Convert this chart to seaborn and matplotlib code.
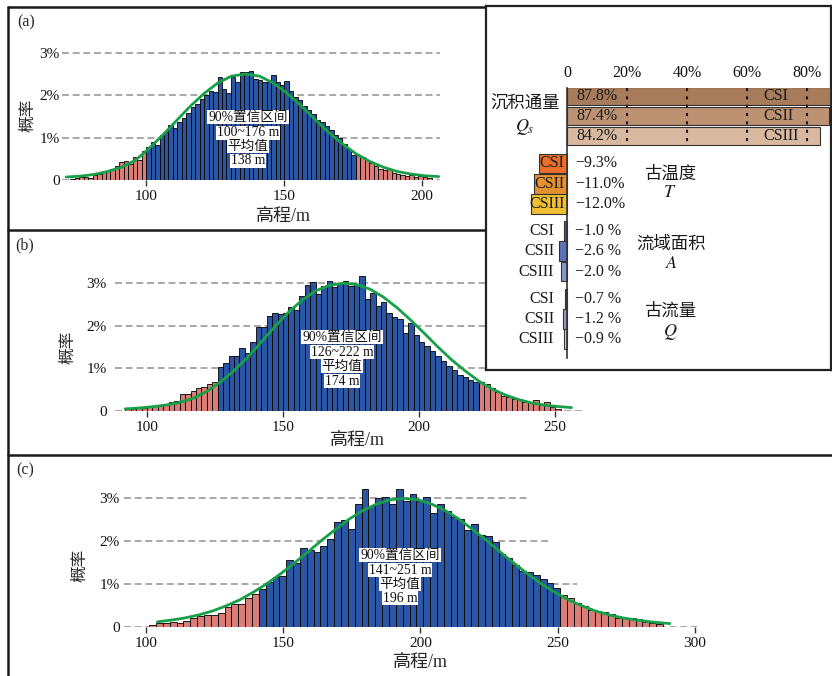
import numpy as np
import pandas as pd
import seaborn as sns
import matplotlib.pyplot as plt
from matplotlib.lines import Line2D

sns.set_theme(style="white")
plt.rcParams["font.family"] = ["Liberation Serif", "Noto Sans CJK SC", "DejaVu Sans"]
plt.rcParams["mathtext.fontset"] = "stix"

W, H = 832, 676
BLUE, RED, GREEN = "#2a56a4", "#d97d76", "#17a048"

# ---------------- histogram data (probability in % per bin) ----------------
a_bin_start, a_bin_width = 72.5, 76 / 47
a_ci = (100, 176)
a_mean = 138
a_pct = [0.02, 0.04, 0.06, 0.08, 0.05, 0.12, 0.15, 0.18, 0.22, 0.27, 0.32, 0.43, 0.45, 0.37, 0.55, 0.48, 0.69,
         0.78, 0.9, 0.83, 1.05, 1.13, 1.3, 1.22, 1.37, 1.47, 1.58, 1.72, 1.8, 1.9, 2.0, 2.1, 2.07, 2.44, 2.15,
         2.05, 2.42, 2.3, 2.55, 2.55, 2.57, 2.38, 2.36, 2.3, 2.32, 2.48, 2.3, 2.25, 2.33, 2.1, 1.95, 1.88, 1.75,
         1.66, 1.55, 1.42, 1.37, 1.27, 1.17, 1.05, 1.0, 0.86, 0.72, 0.6,
         0.59, 0.55, 0.48, 0.39, 0.33, 0.27, 0.23, 0.25, 0.17, 0.14, 0.12, 0.09, 0.12, 0.08, 0.09, 0.06, 0.04]
a_curve_x = [71, 76, 81, 86, 91, 96, 101, 106, 111, 116, 121, 126, 131, 136, 141, 146, 151, 156, 161, 166,
             171, 176, 181, 186, 191, 196, 201, 206]
a_curve_y = [0.07, 0.09, 0.13, 0.2, 0.3, 0.46, 0.74, 1.06, 1.4, 1.74, 2.04, 2.29, 2.45, 2.5, 2.45, 2.29, 2.05,
             1.76, 1.44, 1.13, 0.86, 0.62, 0.44, 0.3, 0.2, 0.14, 0.1, 0.08]

b_bin_start, b_bin_width = 92, 2.0
b_ci = (126, 222)
b_mean = 174
b_pct = [0.04, 0.05, 0.06, 0.08, 0.1, 0.12, 0.15, 0.17, 0.2, 0.24, 0.4, 0.4, 0.46, 0.54, 0.57, 0.63, 0.67,
         1.03, 1.13, 1.28, 1.3, 1.48, 1.35, 1.63, 1.98, 1.98, 2.24, 2.29, 2.27,
         2.31, 2.44, 2.37, 2.7, 2.95, 3.02, 2.75, 2.93, 3.05, 2.9, 2.97, 3.06, 2.93, 2.98, 3.17,
         2.64, 2.78, 2.46, 2.57, 2.3, 2.2, 2.15, 1.82, 2.07, 1.78, 1.62, 1.52, 1.4, 1.3, 1.17, 1.05, 0.97,
         0.85, 0.8, 0.73, 0.68,
         0.68, 0.63, 0.55, 0.45, 0.35, 0.33, 0.28, 0.27, 0.22, 0.2, 0.25, 0.15, 0.22, 0.1, 0.05]
b_curve_x = [92, 97, 102, 107, 112, 117, 122, 127, 132, 137, 142, 147, 152, 157, 162, 167, 172, 177, 182,
             187, 192, 197, 202, 207, 212, 217, 222, 227, 232, 237, 242, 247, 252, 256]
b_curve_y = [0.05, 0.07, 0.1, 0.14, 0.2, 0.3, 0.46, 0.68, 0.95, 1.26, 1.62, 1.98, 2.32, 2.6, 2.82, 2.95, 3.0,
             2.97, 2.86, 2.67, 2.42, 2.13, 1.82, 1.5, 1.2, 0.94, 0.7, 0.51, 0.37, 0.26, 0.18, 0.13, 0.1, 0.08]

c_bin_start, c_bin_width = 101, 2.5
c_ci = (141, 251)
c_mean = 196
c_pct = [0.05, 0.1, 0.1, 0.12, 0.09, 0.14, 0.2, 0.26, 0.27, 0.28, 0.33, 0.47, 0.53, 0.54, 0.68, 0.76,
         0.88, 1.05, 1.17, 1.19, 1.56, 1.5, 1.84, 1.8, 1.74, 1.88, 2.05, 2.45, 2.48, 2.29, 2.87, 3.22,
         2.81, 2.99, 3.02, 2.85, 3.22, 2.94, 3.1, 2.94, 3.03, 2.66, 2.85, 2.7, 2.56, 2.52, 2.25, 2.39,
         2.15, 2.11, 1.98, 1.7, 1.61, 1.45, 1.3, 1.28, 1.22, 1.12, 1.02, 0.9,
         0.75, 0.68, 0.55, 0.48, 0.4, 0.38, 0.35, 0.3, 0.22, 0.2, 0.22, 0.18, 0.12, 0.1, 0.08]
c_curve_x = [104, 109, 114, 119, 124, 129, 134, 139, 144, 149, 154, 159, 164, 169, 174, 179, 184, 189, 194,
             199, 204, 209, 214, 219, 224, 229, 234, 239, 244, 249, 254, 259, 264, 269, 274, 279, 284, 289, 291]
c_curve_y = [0.12, 0.16, 0.21, 0.28, 0.37, 0.49, 0.63, 0.81, 1.01, 1.24, 1.49, 1.75, 2.02, 2.27, 2.51, 2.71,
             2.86, 2.96, 2.99, 2.96, 2.86, 2.71, 2.51, 2.27, 2.02, 1.75, 1.49, 1.24, 1.01, 0.81, 0.63, 0.49,
             0.37, 0.28, 0.21, 0.16, 0.12, 0.09, 0.08]

# ---------------- panel (d) data ----------------
members = ["CSI", "CSII", "CSIII"]
qs_vals = [87.8, 87.4, 84.2]
t_vals = [-9.3, -11.0, -12.0]
area_vals = [-1.0, -2.6, -2.0]
q_vals = [-0.7, -1.2, -0.9]
group_names = ["沉积通量", "古温度", "流域面积", "古流量"]
group_syms = [r"$Q_s$", r"$T$", r"$A$", r"$Q$"]
d_ticks = [0, 20, 40, 60, 80]

fig = plt.figure(figsize=(W / 100, H / 100), dpi=100)


def rect(x0, y0, x1, y1):
    return [x0 / W, 1 - y1 / H, (x1 - x0) / W, (y1 - y0) / H]


def ftext(x, y, s, **kw):
    return fig.text(x / W, 1 - y / H, s, **kw)


def hist_panel(box, xlim, ylim, start, width, pct, ci, cx, cy, ticks, ypad, grid_ends=None):
    ax = fig.add_axes(rect(*box))
    ax.patch.set_alpha(0)
    n = len(pct)
    edges = (start + width * np.arange(n + 1)).tolist()
    mids = start + width * (np.arange(n) + 0.5)
    tail = (mids < ci[0]) | (mids > ci[1])
    df = pd.DataFrame({"elev": mids, "pct": pct, "tail": tail})
    for i, lvl in enumerate([0, 1, 2, 3]):
        xmax = xlim[1] if grid_ends is None else grid_ends[i]
        ax.hlines(lvl, xlim[0], xmax, colors="#8f8f8f", linestyles=(0, (4.5, 2.5)), lw=1.1, zorder=0)
    for is_tail, col in [(True, RED), (False, BLUE)]:
        sub = df[df["tail"] == is_tail]
        sns.histplot(data=sub, x="elev", weights="pct", bins=edges, color=col, alpha=1,
                     edgecolor="black", linewidth=0.6, ax=ax)
    sns.lineplot(x=cx, y=cy, color=GREEN, linewidth=2, ax=ax)
    ax.set_xlim(*xlim)
    ax.set_ylim(*ylim)
    ax.set_xticks(ticks)
    ax.set_xticklabels([str(t) for t in ticks], fontsize=11)
    ax.set_yticks([0, 1, 2, 3])
    ax.set_yticklabels(["0", "1%", "2%", "3%"], fontsize=11)
    ax.tick_params(axis="x", bottom=True, length=4, width=1, color="#333333", pad=3, labelcolor="#111111")
    ax.tick_params(axis="y", left=False, length=0, pad=ypad, labelcolor="#111111")
    sns.despine(ax=ax, left=True, bottom=True)
    ax.set_xlabel("")
    ax.set_ylabel("")
    return ax


hist_panel((62, 46.4, 440, 180), (69.5, 206.5), (0, 3.15), a_bin_start, a_bin_width, a_pct, a_ci,
           a_curve_x, a_curve_y, [100, 150, 200], 1.5)
hist_panel((115, 274.7, 585, 411), (88.24, 261.0), (0, 3.2), b_bin_start, b_bin_width, b_pct, b_ci,
           b_curve_x, b_curve_y, [100, 150, 200, 250], 6)
hist_panel((124, 485.1, 700, 627), (91.8, 302.0), (0, 3.3), c_bin_start, c_bin_width, c_pct, c_ci,
           c_curve_x, c_curve_y, [100, 150, 200, 250, 300], 3, grid_ends=[300.8, 257, 247, 240])

# annotation boxes
ann_kw = dict(ha="center", va="center", fontsize=9.8, color="#111111",
              bbox=dict(facecolor="white", edgecolor="none", pad=0.6))
for (cx, ys), ci, mean in [((248, (117, 133, 146, 161)), a_ci, a_mean),
                           ((342, (337, 352, 366, 381)), b_ci, b_mean),
                           ((400, (555, 570, 584, 598)), c_ci, c_mean)]:
    lines = ["90%置信区间", f"{ci[0]}~{ci[1]} m", "平均值", f"{mean} m"]
    for y, s in zip(ys, lines):
        ftext(cx, y, s, **ann_kw)

# axis titles & panel letters
for x, y in [(283, 217), (357, 440), (420, 663)]:
    ftext(x, y, "高程/m", ha="center", va="center", fontsize=13)
for x, y in [(28, 115), (68, 347), (80, 565)]:
    ftext(x, y, "概率", ha="center", va="center", rotation=90, fontsize=12)
for (x, y), s in zip([(26, 22), (25, 245), (25, 470), (503, 22)], ["(a)", "(b)", "(c)", "(d)"]):
    ftext(x, y, s, ha="center", va="center", fontsize=11.5)

# panel frames
frame_kw = dict(color="#1a1a1a", lw=1.8, transform=fig.transFigure, zorder=1)
for (x0, y0), (x1, y1) in [((8, 7), (486, 7)), ((8, 230), (832, 230)), ((8, 455), (832, 455)),
                           ((8, 7), (8, 676))]:
    fig.add_artist(Line2D([x0 / W, x1 / W], [1 - y0 / H, 1 - y1 / H], **frame_kw))

# ---------------- panel (d) ----------------
box = fig.add_axes(rect(486, 6, 831, 370), zorder=5)
box.set_facecolor("white")
box.set_xticks([])
box.set_yticks([])
for s in box.spines.values():
    s.set_visible(True)
    s.set_color("#222222")
    s.set_linewidth(1.6)

axd = fig.add_axes(rect(527, 88, 832, 358), zorder=6)
axd.patch.set_alpha(0)
groups = [qs_vals, t_vals, area_vals, q_vals]
colors = [["#a67c5b", "#bd9272", "#d8b89e"],
          ["#e8702a", "#e5912f", "#f0be32"],
          ["#3c5aa6", "#5a72b8", "#8598cd"],
          ["#7b5c96", "#a68ebf", "#d3c9e1"]]
heights = [0.88, 0.98, 0.98, 0.98]
for g, vals in enumerate(groups):
    ys = [3.35 * g + i for i in range(3)]
    axd.barh(ys, vals, height=heights[g], color=colors[g], edgecolor="#333333", linewidth=0.8, zorder=2)
    for i, (y, v) in enumerate(zip(ys, vals)):
        if g == 0:
            axd.text(3.2, y, f"{v:.1f}%", ha="left", va="center", fontsize=11.5, color="#1a1a1a", zorder=5)
            axd.text(65.4, y, members[i], ha="left", va="center", fontsize=11.5, color="#1a1a1a", zorder=5)
        elif g == 1:
            axd.text(-0.9, y, members[i], ha="right", va="center", fontsize=11.5, color="#1a1a1a", zorder=5)
            axd.text(2.7, y, f"\u2212{abs(v):.1f}%", ha="left", va="center", fontsize=11.5, color="#1a1a1a")
        else:
            axd.text(-4.3, y, members[i], ha="right", va="center", fontsize=11.5, color="#1a1a1a")
            axd.text(2.7, y, f"\u2212{abs(v):.1f} %", ha="left", va="center", fontsize=11.5, color="#1a1a1a")

axd.vlines([20, 40, 60, 80], -0.386, 2.5, colors="#1a1a1a", linestyles=(0, (1.5, 2.5)), lw=1.5, zorder=4)

# group names
name_pos = [(-14.0, 0.455, 1.54), (34.3, 3.92, 4.81), (34.7, 7.34, 8.28), (34.3, 10.7, 11.69)]
for (x, y1, y2), name, sym in zip(name_pos, group_names, group_syms):
    axd.text(x, y1, name, ha="center", va="center", fontsize=12.5, color="#1a1a1a", clip_on=False)
    axd.text(x, y2, sym, ha="center", va="center", fontsize=13, color="#1a1a1a", clip_on=False)

axd.set_xlim(-13.33, 88.33)
axd.set_ylim(12.98, -0.386)
axd.xaxis.tick_top()
axd.set_xticks(d_ticks)
axd.set_xticklabels(["0"] + [f"{t}%" for t in d_ticks[1:]], fontsize=11.5)
axd.tick_params(axis="x", top=False, bottom=False, length=0, pad=5, labelcolor="#111111")
axd.set_yticks([])
for side in ["top", "right", "bottom"]:
    axd.spines[side].set_visible(False)
axd.spines["left"].set_position(("data", 0))
axd.spines["left"].set_color("#333333")
axd.spines["left"].set_linewidth(1.2)

fig.savefig("out.png", dpi=100, facecolor="white")
